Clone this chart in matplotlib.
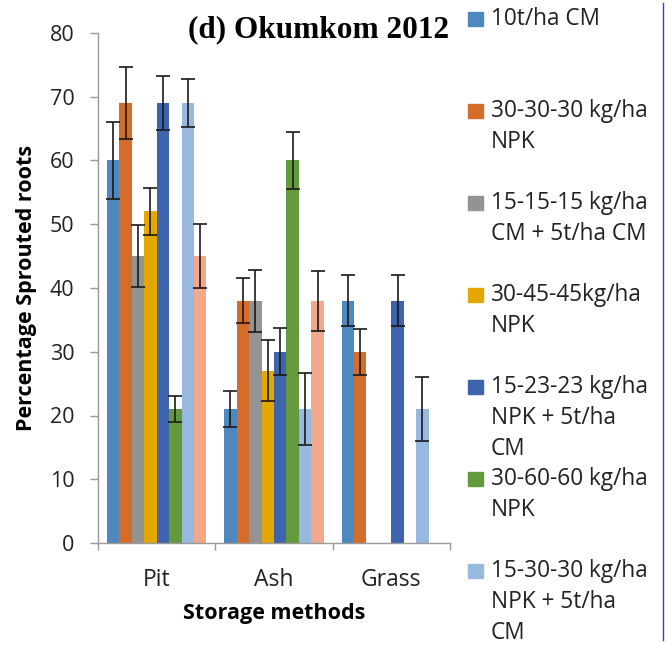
import matplotlib.pyplot as plt
from matplotlib.lines import Line2D
from matplotlib.patches import Rectangle
import numpy as np

plt.rcParams['font.family'] = ['Open Sans', 'DejaVu Sans']

storage = ['Pit', 'Ash', 'Grass']
treatments = [
    '10t/ha CM',
    '30-30-30 kg/ha\nNPK',
    '15-15-15 kg/ha\nCM + 5t/ha CM',
    '30-45-45kg/ha\nNPK',
    '15-23-23 kg/ha\nNPK + 5t/ha\nCM',
    '30-60-60 kg/ha\nNPK',
    '15-30-30 kg/ha\nNPK + 5t/ha\nCM',
    '30-60-60 kg/ha\nNPK + 5t/ha CM',
]
colors = ['#4F88BF', '#D56D2A', '#939393', '#E2A700',
          '#3D64AD', '#649A3E', '#98B9DF', '#F2A98B']

# sprouted roots (%) per treatment, for Pit / Ash / Grass
sprouted = [
    [60, 21, 38],
    [69, 38, 30],
    [45, 38, 0],
    [52, 27, 0],
    [69, 30, 38],
    [21, 60, 0],
    [69, 21, 21],
    [45, 38, 0],
]
errors = [
    [6.0, 2.8, 4.0],
    [5.7, 3.5, 3.6],
    [4.9, 4.9, None],
    [3.7, 4.8, None],
    [4.2, 3.7, 4.0],
    [2.0, 4.4, None],
    [3.8, 5.6, 5.0],
    [5.0, 4.7, None],
]

fig = plt.figure(figsize=(6.72, 6.48), dpi=100)
ax = fig.add_axes([98 / 672, 1 - 543 / 648, 352 / 672, 510 / 648])

x = np.arange(len(storage))
n = len(treatments)
width = 0.106
for i in range(n):
    pos = x + (i - (n - 1) / 2) * width
    ax.bar(pos, sprouted[i], width, color=colors[i], zorder=2)
    for p, v, e in zip(pos, sprouted[i], errors[i]):
        if e is None:
            continue
        ax.errorbar(p, v, yerr=e, fmt='none', ecolor='#1a1a1a',
                    elinewidth=1.2, capsize=4.8, capthick=1.2, zorder=3)

ax.set_xlim(-0.5, 2.5)
ax.set_ylim(0, 80)
ax.set_yticks(range(0, 81, 10))
ax.set_xticks(x)
ax.set_xticklabels(storage)
ax.set_xticks([-0.5, 0.5, 1.5, 2.5], minor=True)
ax.tick_params(axis='x', which='major', length=0, pad=18, labelsize=16.5, colors='#222222')
ax.tick_params(axis='x', which='minor', length=5, color='#9a9a9a', width=1)
ax.tick_params(axis='y', length=6, color='#9a9a9a', width=1, pad=11,
               labelsize=15.5, labelcolor='#222222')
for side in ['top', 'right']:
    ax.spines[side].set_visible(False)
for side in ['left', 'bottom']:
    ax.spines[side].set_color('#9a9a9a')
    ax.spines[side].set_linewidth(1)

ax.set_xlabel('Storage methods', fontsize=15.5, fontweight='bold', labelpad=8)
ax.set_ylabel('Percentage Sprouted roots', fontsize=15.5, fontweight='bold', labelpad=9)

fig.text(319 / 672, 1 - 30 / 648, '(d) Okumkom 2012', ha='center', va='center',
         fontsize=22.5, fontweight='bold', family='Liberation Serif')

# legend, one entry every 92 px, wrapped lines 31 px apart
for i, label in enumerate(treatments[:7]):
    y_px = 19 + i * 92
    fig.patches.append(Rectangle((468 / 672, 1 - (y_px + 7) / 648), 15 / 672, 14 / 648,
                                 transform=fig.transFigure, color=colors[i]))
    for j, line in enumerate(label.split('\n')):
        fig.text(491 / 672, 1 - (y_px + j * 31) / 648, line, ha='left', va='center',
                 fontsize=16.3, color='#222222')

fig.add_artist(Line2D([663 / 672, 663 / 672], [1 - 3 / 648, 1 - 640 / 648],
                      transform=fig.transFigure, color='#3a3ae0', linewidth=1))

fig.savefig('out.png', dpi=100)
